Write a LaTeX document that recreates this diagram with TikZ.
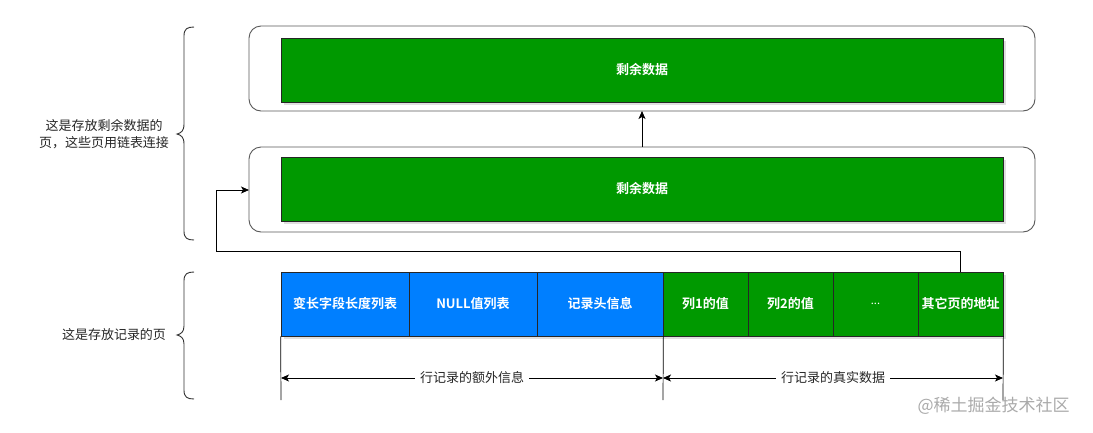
\documentclass[tikz,border=0pt]{standalone}
\usepackage{fontspec}
\setmainfont{Noto Sans CJK SC}
\newfontfamily\cjkbold{Noto Sans CJK SC Bold}
\usetikzlibrary{arrows.meta,shadows}
\definecolor{dgreen}{RGB}{0,153,0}
\definecolor{dblue}{RGB}{0,127,255}
\definecolor{wm}{RGB}{170,170,170}
\tikzset{
  pagebox/.style={draw=black!65, line width=0.9pt, rounded corners=12pt, fill=white},
  greenbox/.style={draw=black!85, fill=dgreen, line width=0.7pt, drop shadow={opacity=0.25, shadow xshift=2.5pt, shadow yshift=-2.5pt}},
  cellb/.style={draw=black!85, fill=dblue, line width=0.7pt, minimum height=64pt, inner sep=0pt, text=white, font=\cjkbold\fontsize{13}{15}\selectfont},
  cellg/.style={draw=black!85, fill=dgreen, line width=0.7pt, minimum height=64pt, inner sep=0pt, text=white, font=\cjkbold\fontsize{13}{15}\selectfont},
  wtext/.style={text=white, font=\cjkbold\fontsize{13}{15}\selectfont},
  lbl/.style={font=\fontsize{13}{16.5}\selectfont, text=black!85, align=center},
  conn/.style={draw=black, line width=0.8pt, -{Stealth[length=8pt,width=7pt,inset=2pt]}},
  dimline/.style={draw=black, line width=0.8pt, {Stealth[length=8pt,width=7pt,inset=2pt]}-{Stealth[length=8pt,width=7pt,inset=2pt]}},
  guide/.style={draw=black, line width=0.7pt},
  bracestyle/.style={draw=black!80, line width=0.9pt}
}
\begin{document}
\begin{tikzpicture}[x=1pt,y=-1pt]
\useasboundingbox (0,0) rectangle (1093,432);
\fill[white] (0,0) rectangle (1093,432);

% pages
\draw[pagebox] (249,26) rectangle (1035,111);
\coordinate (p1b) at (642,111);
\draw[pagebox] (249,147) rectangle (1035,232);
\coordinate (p2t) at (642,147);
\coordinate (p2l) at (249,190);

\draw[greenbox] (281,38) rectangle (1003,102);
\node[wtext] (r1) at (642,70) {剩余数据};
\draw[greenbox] (281,157) rectangle (1003,221);
\node[wtext] (r2) at (642,189) {剩余数据};

\draw[conn] (p2t) -- (p1b);

% record row
\begin{scope}[every node/.append style={drop shadow={opacity=0.25, shadow xshift=2.5pt, shadow yshift=-2.5pt}}]
\node[cellb, minimum width=128pt] (c1) at (345,304) {变长字段长度列表};
\node[cellb, minimum width=128pt] (c2) at (473,304) {NULL值列表};
\node[cellb, minimum width=126pt] (c3) at (600,304) {记录头信息};
\node[cellg, minimum width=85pt] (c4) at (705.5,304) {列1的值};
\node[cellg, minimum width=85pt] (c5) at (790.5,304) {列2的值};
\node[cellg, minimum width=85pt, font=\fontsize{11}{13}\selectfont] (c6) at (875.5,304) {...};
\node[cellg, minimum width=85pt] (c7) at (960.5,304) {其它页的地址};
\end{scope}

% link from record to overflow page
\coordinate (lk) at (960.5,272);
\draw[conn] (lk) -- (960.5,251) -- (216,251) -- (216,190) -- (p2l);

% guide lines
\coordinate (g1) at (281,400);
\coordinate (g2) at (663,400);
\coordinate (g3) at (1003,400);
\draw[guide] (c1.south west) -- (g1);
\draw[guide] (c3.south east) -- (g2);
\draw[guide] (c7.south east) -- (g3);

% dimension arrows
\coordinate (d1) at (281,378);
\coordinate (d2) at (663,378);
\coordinate (d3) at (1003,378);
\draw[dimline] (d1) -- (d2) node[midway, fill=white, inner xsep=5pt, lbl] (t1) {行记录的额外信息};
\draw[dimline] (d2) -- (d3) node[pos=0.5, fill=white, inner xsep=5pt, lbl] (t2) {行记录的真实数据};

% braces
\draw[bracestyle] (194,27) .. controls (187,27) and (184,29) .. (184,36) -- (184,124)
  .. controls (184,131) and (181,133) .. (177,134)
  .. controls (181,135) and (184,137) .. (184,144) -- (184,231)
  .. controls (184,238) and (187,240) .. (194,240);
\draw[bracestyle] (194,272) .. controls (187,272) and (184,274) .. (184,281) -- (184,326)
  .. controls (184,332) and (181,334) .. (177,335)
  .. controls (181,336) and (184,338) .. (184,344) -- (184,390)
  .. controls (184,397) and (187,399) .. (194,399);

\node[lbl] (L1) at (104,134) {这是存放剩余数据的\\页，这些页用链表连接};
\node[lbl] (L2) at (114,335) {这是存放记录的页};

% watermark
\node[font=\fontsize{17}{20}\selectfont, text=wm, anchor=west] (wmk) at (914,406) {@稀土掘金技术社区};
\end{tikzpicture}
\end{document}
